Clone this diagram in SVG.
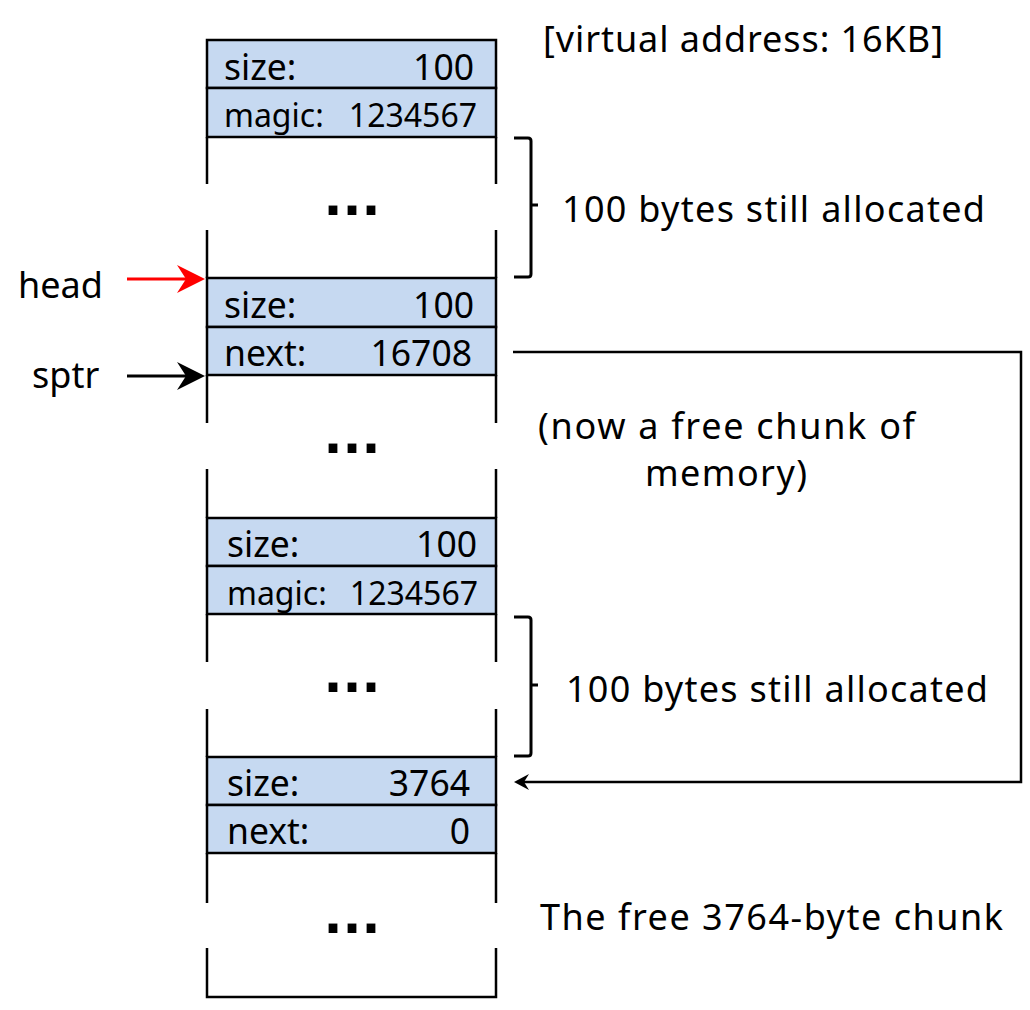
<svg xmlns="http://www.w3.org/2000/svg" width="1030" height="1010" viewBox="0 0 1030 1010">
<style>
  .row { fill: #C6D9F1; stroke: #000; stroke-width: 2.5; }
  .side { stroke: #000; stroke-width: 2.5; fill: none; }
  .t { font-family: "Noto Sans", "Open Sans", sans-serif; fill: #000; }
  .f { font-size: 35.5px; }
  .m { font-size: 32px; }
  .lbl { font-size: 36px; }
  .dots { font-family: "DejaVu Sans", sans-serif; font-weight: bold; font-size: 50px; text-anchor: middle; }
  .end { text-anchor: end; }
  .brk { stroke: #000; stroke-width: 3; fill: none; stroke-linejoin: round; }
  .conn { stroke: #000; stroke-width: 2.5; fill: none; }
</style>
<defs>
  <marker id="arrS" markerUnits="userSpaceOnUse" orient="auto" overflow="visible" refX="0" refY="0" markerWidth="20" markerHeight="20">
    <path d="M8,0 L-7,-8 L-2,0 L-7,8 Z" fill="#000"/>
  </marker>
  <marker id="arrR" markerUnits="userSpaceOnUse" orient="auto" overflow="visible" refX="0" refY="0" markerWidth="30" markerHeight="30">
    <path d="M10,0 L-18,-14 L-9,0 L-18,14 Z" fill="#FF0000"/>
  </marker>
  <marker id="arrK" markerUnits="userSpaceOnUse" orient="auto" overflow="visible" refX="0" refY="0" markerWidth="30" markerHeight="30">
    <path d="M10,0 L-18,-14 L-9,0 L-18,14 Z" fill="#000"/>
  </marker>
</defs>

<text class="t lbl" x="543" y="52" textLength="400" lengthAdjust="spacing">[virtual address: 16KB]</text>

<g id="chunk1">
  <rect class="row" x="207" y="40" width="289" height="48"/>
  <rect class="row" x="207" y="88" width="289" height="49"/>
  <text class="t f" x="224" y="80">size:</text>
  <text class="t f end" x="474" y="80">100</text>
  <text class="t m" x="224" y="127">magic:</text>
  <text class="t m end" x="477" y="127">1234567</text>
  <path class="side" d="M207,137 V184 M496,137 V184 M207,230 V278 M496,230 V278"/>
  <text class="dots" x="352" y="215">...</text>
</g>

<g id="chunk2">
  <rect class="row" x="207" y="278" width="289" height="49"/>
  <rect class="row" x="207" y="327" width="289" height="48"/>
  <text class="t f" x="224" y="318">size:</text>
  <text class="t f end" x="474" y="318">100</text>
  <text class="t f" x="224" y="366">next:</text>
  <text class="t f end" x="472" y="366">16708</text>
  <path class="side" d="M207,375 V423 M496,375 V423 M207,469 V518 M496,469 V518"/>
  <text class="dots" x="352" y="453">...</text>
</g>

<g id="chunk3">
  <rect class="row" x="207" y="518" width="289" height="48"/>
  <rect class="row" x="207" y="566" width="289" height="48"/>
  <text class="t f" x="227" y="557">size:</text>
  <text class="t f end" x="477" y="557">100</text>
  <text class="t m" x="227" y="605">magic:</text>
  <text class="t m end" x="478" y="605">1234567</text>
  <path class="side" d="M207,614 V662 M496,614 V662 M207,709 V757 M496,709 V757"/>
  <text class="dots" x="352" y="692">...</text>
</g>

<g id="chunk4">
  <rect class="row" x="207" y="757" width="289" height="48"/>
  <rect class="row" x="207" y="805" width="289" height="48"/>
  <text class="t f" x="227" y="796">size:</text>
  <text class="t f end" x="470" y="796">3764</text>
  <text class="t f" x="227" y="844">next:</text>
  <text class="t f end" x="470" y="844">0</text>
  <path class="side" d="M207,853 V903 M496,853 V903 M207,948 V997 H496 V948"/>
  <text class="dots" x="352" y="933">...</text>
</g>

<g id="brace1">
  <path class="brk" d="M514,138 H528 Q531,138 531,141 V274 Q531,277 528,277 H514 M531,205 H538"/>
  <text class="t lbl" x="562" y="222" textLength="423" lengthAdjust="spacing">100 bytes still allocated</text>
</g>

<g id="brace2">
  <path class="brk" d="M514,617 H528 Q531,617 531,620 V753 Q531,756 528,756 H514 M531,685 H538"/>
  <text class="t lbl" x="566" y="702" textLength="422" lengthAdjust="spacing">100 bytes still allocated</text>
</g>

<g id="label-head">
  <text class="t lbl" x="18" y="298">head</text>
</g>
<g id="label-sptr">
  <text class="t lbl" x="32" y="388">sptr</text>
</g>
<g id="label-free">
  <text class="t lbl" x="538" y="439" textLength="377" lengthAdjust="spacing">(now a free chunk of</text>
  <text class="t lbl" x="645" y="486" textLength="162" lengthAdjust="spacing">memory)</text>
</g>
<g id="label-bottom">
  <text class="t lbl" x="540" y="930" textLength="463" lengthAdjust="spacing">The free 3764-byte chunk</text>
</g>

<g id="connectors">
  <path d="M127,279 H195" stroke="#FF0000" stroke-width="3" fill="none" marker-end="url(#arrR)"/>
  <path d="M127,376 H195" stroke="#000" stroke-width="3" fill="none" marker-end="url(#arrK)"/>
  <path class="conn" d="M513,352 H1021 V782 H522" marker-end="url(#arrS)"/>
</g>
</svg>
